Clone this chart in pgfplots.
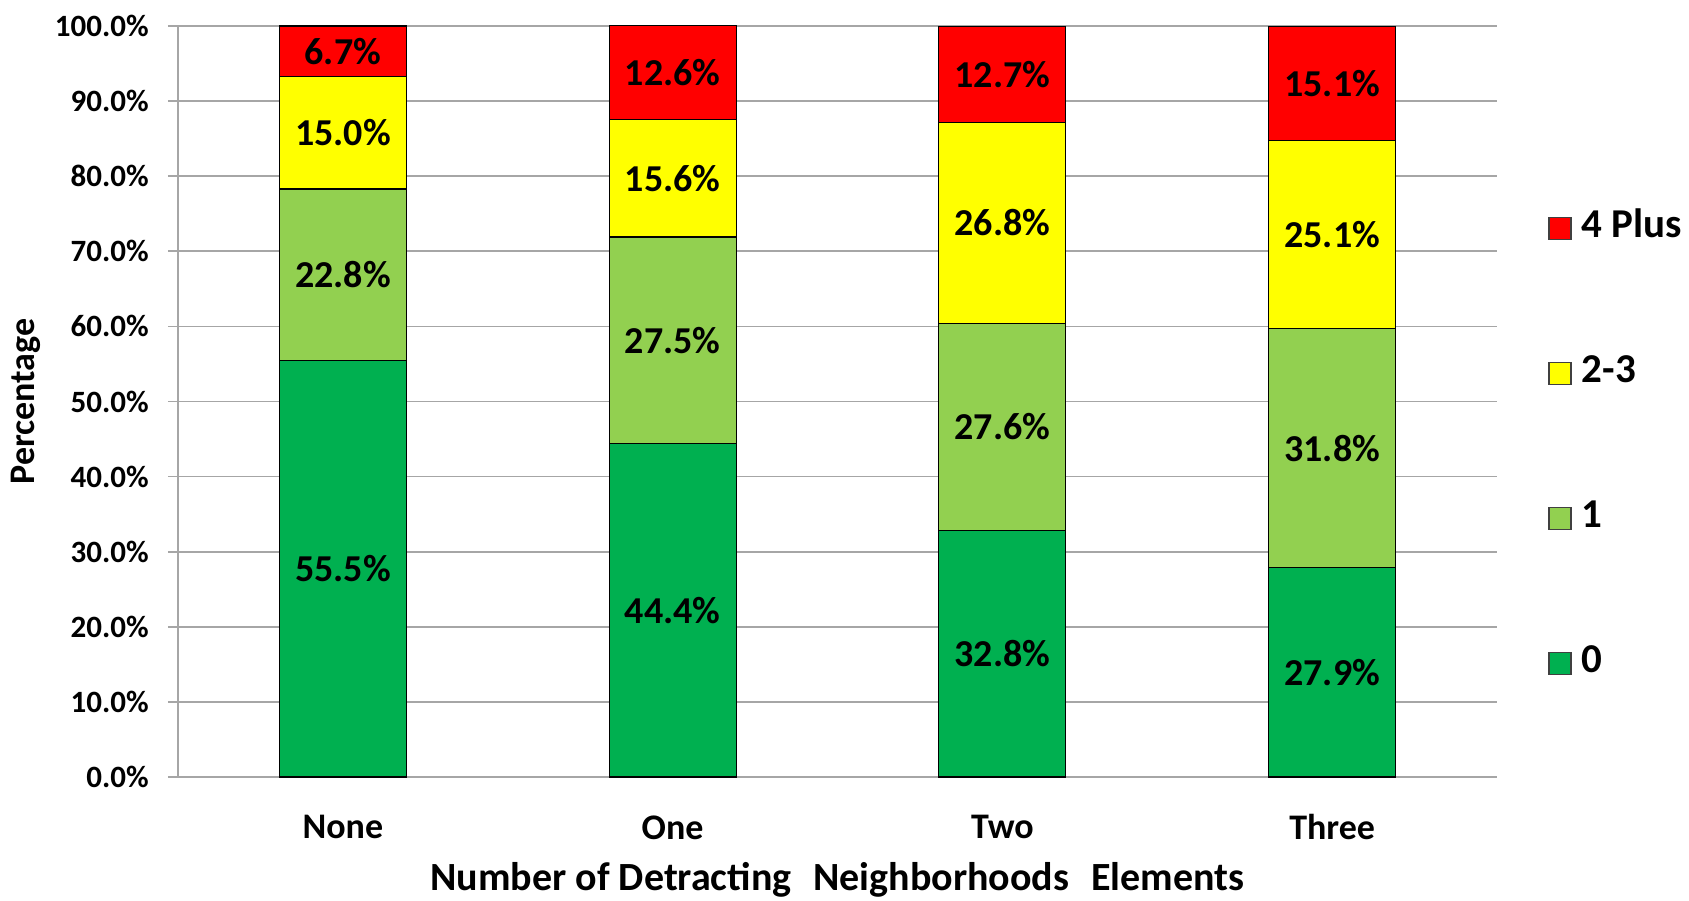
\documentclass[border=0pt]{standalone}
\usepackage{fontspec}
\setmainfont{Carlito}
\usepackage{pgfplots}
\usepackage{pgfplotstable}
\pgfplotsset{compat=1.18}

\definecolor{cRed}{HTML}{FF0000}
\definecolor{cYellow}{HTML}{FFFF00}
\definecolor{cLight}{HTML}{92D050}
\definecolor{cGreen}{HTML}{00B050}
\definecolor{gridgray}{HTML}{A6A6A6}

% share of each group (0, 1, 2-3, 4 Plus) per category
\pgfplotstableread{
x  v0    v1    v2    v3
0  55.5  22.8  15.0  6.7
1  44.4  27.5  15.6  12.6
2  32.8  27.6  26.8  12.7
3  27.9  31.8  25.1  15.1
}\data
% label positions: middle of each segment
\pgfplotstablecreatecol[create col/expr={\thisrow{v0}/2}]{m0}\data
\pgfplotstablecreatecol[create col/expr={\thisrow{v0}+\thisrow{v1}/2}]{m1}\data
\pgfplotstablecreatecol[create col/expr={\thisrow{v0}+\thisrow{v1}+\thisrow{v2}/2}]{m2}\data
\pgfplotstablecreatecol[create col/expr={\thisrow{v0}+\thisrow{v1}+\thisrow{v2}+\thisrow{v3}/2}]{m3}\data

\pgfplotsset{
  base/.style={
    scale only axis, width=659.5pt, height=375.5pt,
    xmin=-0.5, xmax=3.5, ymin=0, ymax=100,
    /pgf/number format/assume math mode=true,
  },
  lbl/.style={
    draw=none, mark=none, point meta=explicit,
    nodes near coords={\pgfmathprintnumber[fixed,fixed zerofill,precision=1,assume math mode=true]{\pgfplotspointmeta}\%},
    every node near coord/.style={anchor=center, inner sep=0pt,
      font=\fontsize{19}{19}\selectfont\bfseries},
  },
}

\begin{document}
\begin{tikzpicture}
\begin{axis}[
  base,
  ybar stacked, bar width=63.5pt,
  axis x line=bottom, axis y line=left,
  axis line style={-, gridgray, line width=0.8pt},
  ymajorgrids, grid style={gridgray, line width=0.8pt},
  ytick={0,10,...,100},
  yticklabel={\pgfmathprintnumber[fixed,fixed zerofill,precision=1]{\tick}\%},
  yticklabel style={font=\fontsize{15.5}{15.5}\selectfont\bfseries, anchor=east, inner sep=0pt, xshift=-9.5pt},
  ytick style={gridgray, line width=0.8pt},
  tick align=outside, major tick length=5pt,
  xtick={0,1,2,3}, xticklabels={None,One,Two,Three},
  xtick style={draw=none},
  xticklabel style={font=\fontsize{18}{18}\selectfont\bfseries, anchor=center, inner sep=0pt, yshift=-20.2pt},
  xlabel={Number of Detracting\hspace{0.55em}Neighborhoods\hspace{0.55em}Elements},
  ylabel={Percentage},
  every axis x label/.style={at={(axis description cs:0.5,0)}, yshift=-51.5pt, anchor=center, inner sep=0pt,
    font=\fontsize{20}{20}\selectfont\bfseries},
  every axis y label/.style={at={(axis description cs:0,0.5)}, xshift=-76pt, rotate=90, anchor=center, inner sep=0pt,
    font=\fontsize{18}{18}\selectfont\bfseries},
  reverse legend,
  legend cell align=left,
  legend image code/.code={\draw[#1, draw=black!75, line width=0.7pt] (0pt,-5.5pt) rectangle (11pt,5.5pt);},
  legend style={at={(rel axis cs:1,1)}, anchor=north west, xshift=25.5pt, yshift=-91.6pt,
    draw=none, fill=none, inner sep=0pt, row sep=53.5pt, column sep=3pt,
    font=\fontsize{20.5}{20.5}\selectfont\bfseries,
    nodes={text height=12pt, text depth=3pt, inner sep=2pt}},
]
\addplot[fill=cGreen, draw=black, line width=0.6pt] table[x=x, y=v0] {\data};
\addplot[fill=cLight, draw=black, line width=0.6pt] table[x=x, y=v1] {\data};
\addplot[fill=cYellow, draw=black, line width=0.6pt] table[x=x, y=v2] {\data};
\addplot[fill=cRed, draw=black, line width=0.6pt] table[x=x, y=v3] {\data};
\legend{0,1,2-3,4 Plus}
\path (rel axis cs:0,0) ++(-89pt,-61.5pt) coordinate (bbsw);
\path (rel axis cs:1,1) ++(96pt,13pt) coordinate (bbne);
\end{axis}
\begin{axis}[base, hide axis, clip=false]
\addplot[lbl] table[x=x, y=m0, meta=v0] {\data};
\addplot[lbl] table[x=x, y=m1, meta=v1] {\data};
\addplot[lbl] table[x=x, y=m2, meta=v2] {\data};
\addplot[lbl] table[x=x, y=m3, meta=v3] {\data};
\end{axis}
\path (bbsw) rectangle (bbne);
\end{tikzpicture}
\end{document}
